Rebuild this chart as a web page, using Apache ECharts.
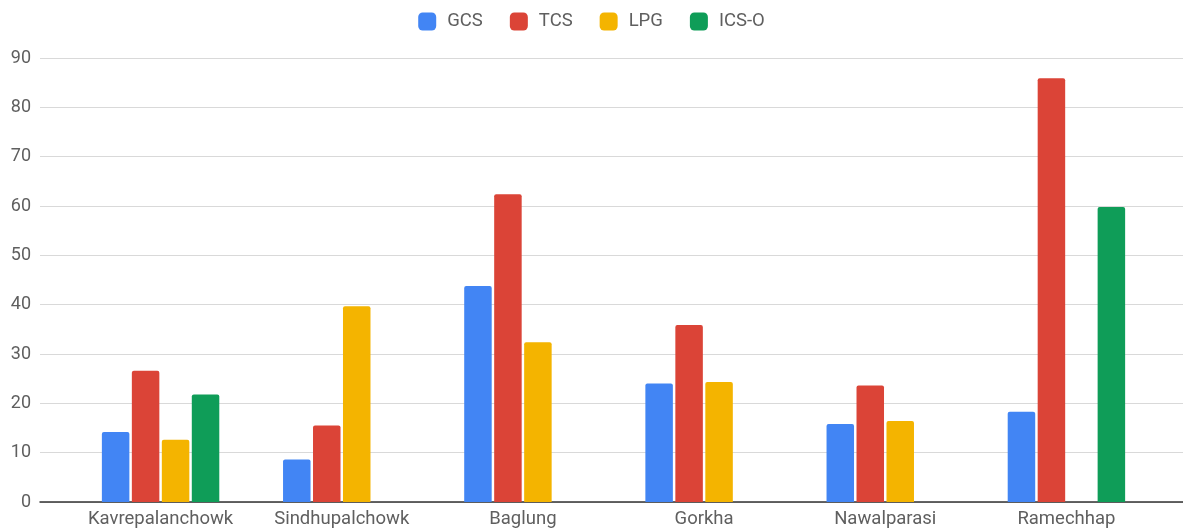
<!DOCTYPE html>
<html>
<head>
<meta charset="utf-8">
<script src="https://cdn.jsdelivr.net/npm/echarts@6/dist/echarts.min.js"></script>
<style>
  html, body { margin: 0; padding: 0; background: #fff; }
  #chart { width: 1183px; height: 531px; }
</style>
</head>
<body>
<div id="chart"></div>
<script>
// Districts and fuel-type values
const districts = ['Kavrepalanchowk', 'Sindhupalchowk', 'Baglung', 'Gorkha', 'Nawalparasi', 'Ramechhap'];
const gcs  = [14.2, 8.6, 43.8, 24.0, 15.8, 18.3];
const tcs  = [26.6, 15.5, 62.4, 35.9, 23.6, 85.9];
const lpg  = [12.6, 39.7, 32.4, 24.3, 16.4, null];
const icso = [21.8, null, null, null, null, 59.8];
const yTicks = [0, 10, 20, 30, 40, 50, 60, 70, 80, 90];

const FONT = 'Roboto, "Noto Sans", sans-serif';
const TEXT = '#5f5f5f';
const colors = ['#4285F4', '#DB4437', '#F4B400', '#0F9D58'];

const chart = echarts.init(document.getElementById('chart'), null, { renderer: 'canvas' });

function barSeries(name, data) {
  return {
    name: name,
    type: 'bar',
    xAxisIndex: 0,
    yAxisIndex: 0,
    data: data,
    barWidth: 27.5,
    barGap: '9%',
    itemStyle: { borderRadius: [2, 2, 0, 0] }
  };
}

chart.setOption({
  animation: false,
  color: colors,
  legend: {
    top: 7,
    left: 'center',
    itemWidth: 18,
    itemHeight: 18,
    itemGap: 27,
    icon: 'roundRect',
    textStyle: { fontFamily: FONT, fontSize: 18.5, color: TEXT, padding: [0, 0, 0, 6] },
    data: ['GCS', 'TCS', 'LPG', 'ICS-O']
  },
  grid: [
    // bars
    { left: 70, right: 26, top: 58, bottom: 29 },
    // full-width gridlines, tick labels and baseline
    { left: 40, right: 0, top: 58, bottom: 29 }
  ],
  xAxis: [
    {
      type: 'category',
      gridIndex: 0,
      data: districts,
      axisLine: { show: false },
      axisTick: { show: false },
      axisLabel: { interval: 0, fontFamily: FONT, fontSize: 18.5, color: TEXT, margin: 8 }
    },
    {
      type: 'value',
      gridIndex: 1,
      min: 0,
      max: 1,
      axisLine: { show: true, onZero: false, lineStyle: { color: '#333', width: 1.5 } },
      axisTick: { show: false },
      axisLabel: { show: false },
      splitLine: { show: false }
    }
  ],
  yAxis: [
    {
      type: 'value',
      gridIndex: 0,
      min: 0,
      max: 90,
      interval: 10,
      axisLine: { show: false },
      axisTick: { show: false },
      axisLabel: { show: false },
      splitLine: { show: false }
    },
    {
      type: 'value',
      gridIndex: 1,
      min: yTicks[0],
      max: yTicks[yTicks.length - 1],
      interval: yTicks[1] - yTicks[0],
      axisLine: { show: false },
      axisTick: { show: false },
      axisLabel: { fontFamily: FONT, fontSize: 18, color: TEXT, margin: 9 },
      splitLine: { lineStyle: { color: '#d9d9d9', width: 1.2 } }
    }
  ],
  series: [
    barSeries('GCS', gcs),
    barSeries('TCS', tcs),
    barSeries('LPG', lpg),
    barSeries('ICS-O', icso)
  ]
});
</script>
</body>
</html>
